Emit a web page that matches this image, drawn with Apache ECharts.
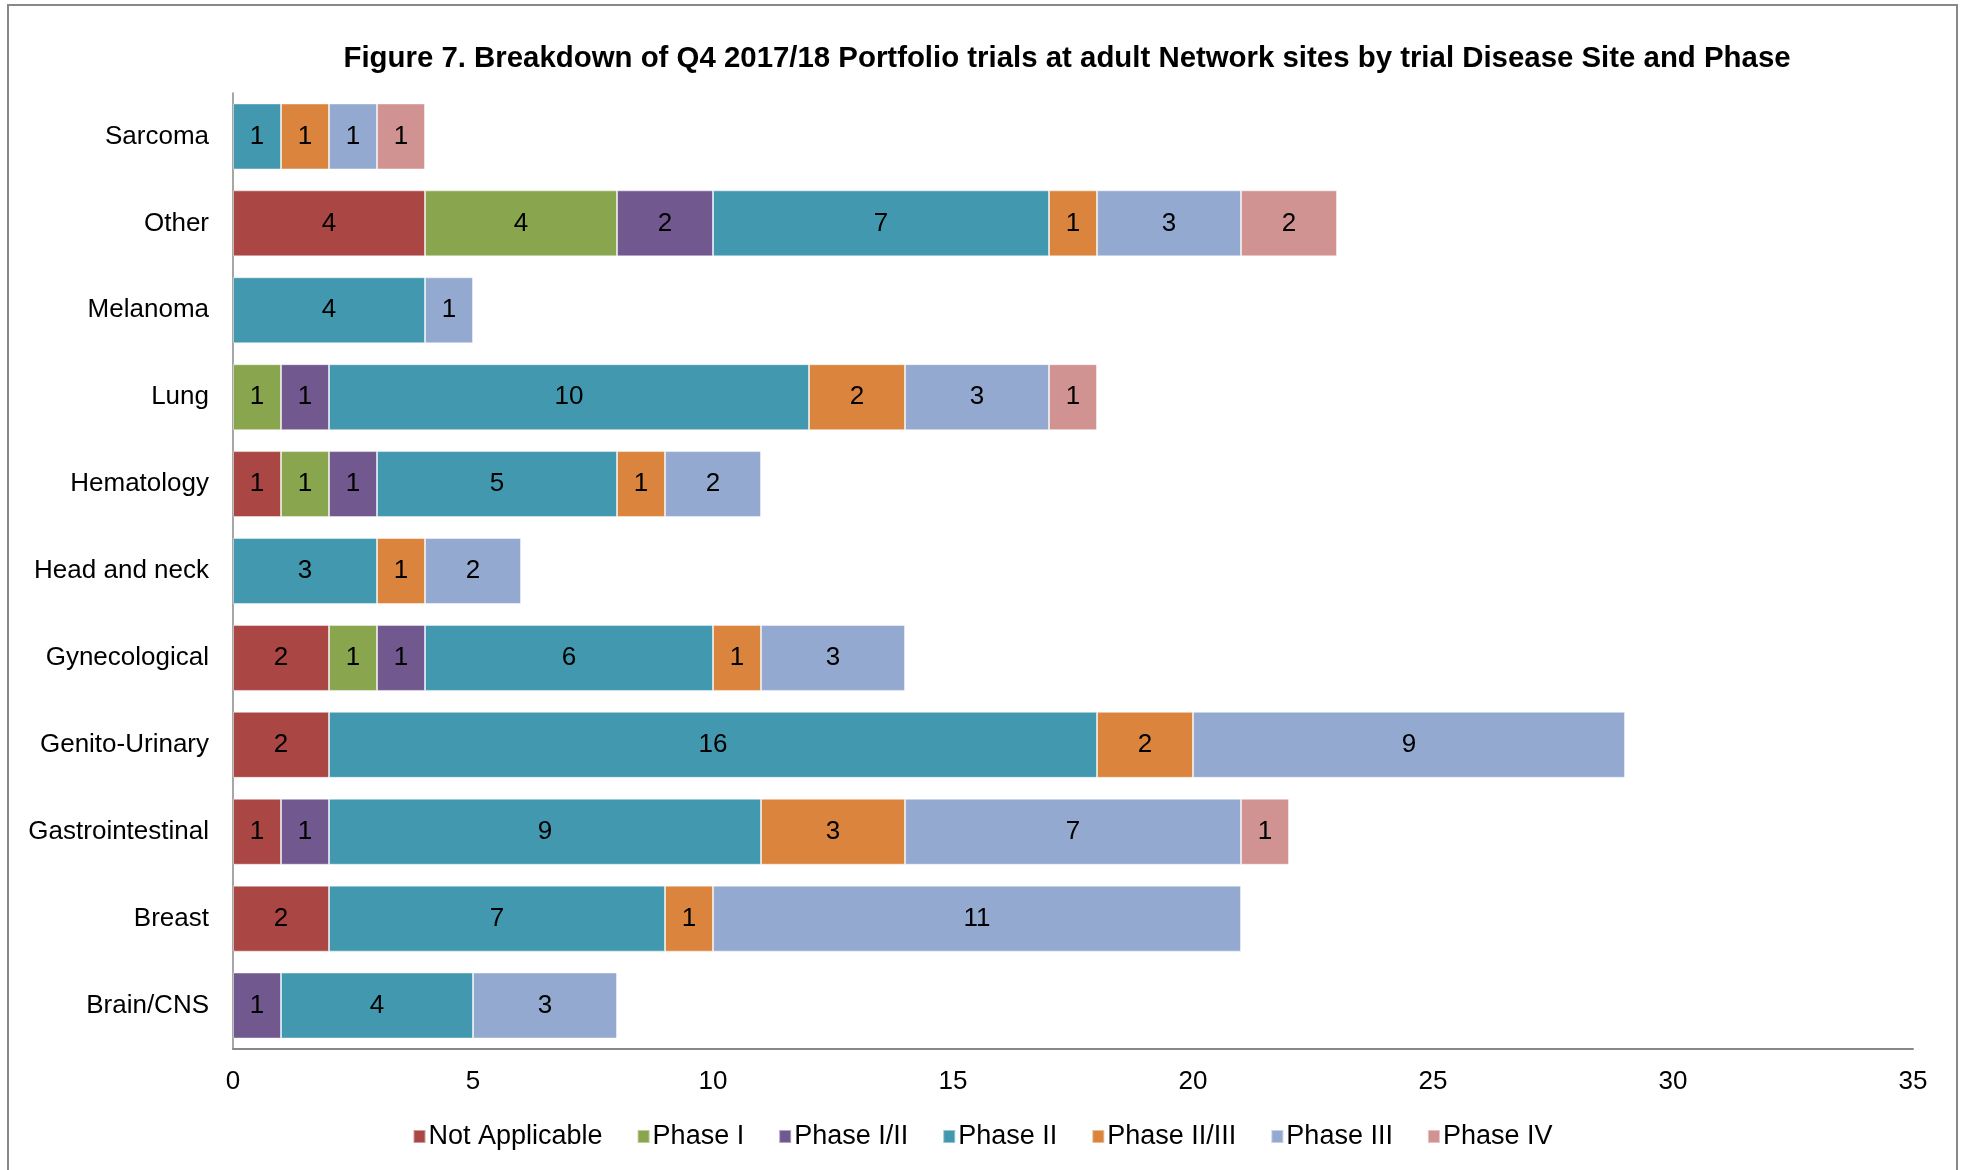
<!DOCTYPE html>
<html>
<head>
<meta charset="utf-8">
<script src="https://cdn.jsdelivr.net/npm/echarts@6/dist/echarts.min.js"></script>
<style>
html,body{margin:0;padding:0;background:#fff;}
#chart{width:1965px;height:1170px;}
</style>
</head>
<body>
<div id="chart"></div>
<script>
const categories = ['Brain/CNS','Breast','Gastrointestinal','Genito-Urinary','Gynecological','Head and neck','Hematology','Lung','Melanoma','Other','Sarcoma'];
const seriesNames = ['Not Applicable','Phase I','Phase I/II','Phase II','Phase II/III','Phase III','Phase IV'];
const notApplicable = [null, 2, 1, 2, 2, null, 1, null, null, 4, null];
const phaseI        = [null, null, null, null, 1, null, 1, 1, null, 4, null];
const phaseI_II     = [1, null, 1, null, 1, null, 1, 1, null, 2, null];
const phaseII       = [4, 7, 9, 16, 6, 3, 5, 10, 4, 7, 1];
const phaseII_III   = [null, 1, 3, 2, 1, 1, 1, 2, null, 1, 1];
const phaseIII      = [3, 11, 7, 9, 3, 2, 2, 3, 1, 3, 1];
const phaseIV       = [null, null, 1, null, null, null, null, 1, null, 2, 1];
const xTicks = [0, 5, 10, 15, 20, 25, 30, 35];

const values = [notApplicable, phaseI, phaseI_II, phaseII, phaseII_III, phaseIII, phaseIV];
const colors = ['#AA4643','#89A54E','#71588F','#4198AF','#DB843D','#93A9CF','#D19392'];
const FONT = '"Liberation Sans", Arial, sans-serif';

const chart = echarts.init(document.getElementById('chart'), null, {renderer:'canvas'});
chart.setOption({
  animation: false,
  backgroundColor: '#fff',
  color: colors,
  title: {
    text: 'Figure 7. Breakdown of Q4 2017/18 Portfolio trials at adult Network sites by trial Disease Site and Phase',
    left: 1062, top: 39, textAlign: 'center',
    textStyle: {fontFamily: FONT, fontSize: 29.4, fontWeight: 'bold', color: '#000'}
  },
  legend: {
    data: seriesNames,
    left: 'center', top: 1118,
    itemWidth: 12, itemHeight: 13, itemGap: 34,
    icon: 'rect',
    textStyle: {fontFamily: FONT, fontSize: 27, color: '#000', padding: [0,0,0,-2]}
  },
  grid: {left: 233, right: 52, top: 93, bottom: 121, containLabel: false},
  xAxis: {
    type: 'value', min: 0, max: 35, interval: 5,
    axisLine: {show: true, lineStyle: {color: '#888', width: 2}},
    axisTick: {show: false},
    splitLine: {show: false},
    axisLabel: {fontFamily: FONT, fontSize: 26, color: '#000', margin: 20,
      formatter: v => xTicks.includes(v) ? String(v) : ''}
  },
  yAxis: {
    type: 'category', data: categories,
    axisLine: {show: true, lineStyle: {color: '#888', width: 1.5}},
    axisTick: {show: false},
    axisLabel: {fontFamily: FONT, fontSize: 26, color: '#000', margin: 24}
  },
  graphic: [{
    type: 'rect', shape: {x: 8, y: 5, width: 1949, height: 1200},
    style: {fill: 'none', stroke: '#888', lineWidth: 2}, silent: true, z: -1
  }],
  series: seriesNames.map((name, i) => ({
    name, type: 'bar', stack: 'total', barWidth: 66,
    data: values[i],
    itemStyle: {color: colors[i], borderColor: 'rgba(255,255,255,0.45)', borderWidth: 1},
    label: {show: true, position: 'inside', fontFamily: FONT, fontSize: 26, color: '#000',
      formatter: p => (p.value ? String(p.value) : '')}
  }))
});
</script>
</body>
</html>
